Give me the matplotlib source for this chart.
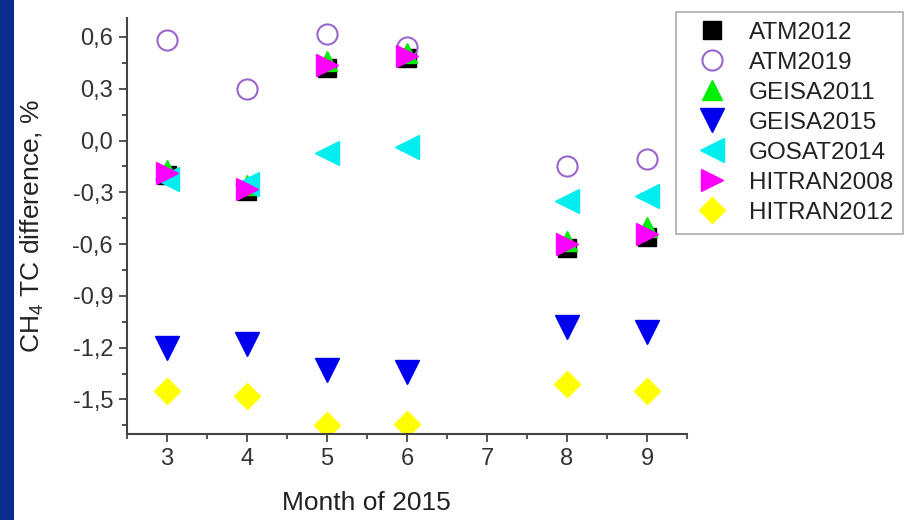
import matplotlib
matplotlib.use("Agg")
import matplotlib.pyplot as plt
from matplotlib.patches import Rectangle
from matplotlib.ticker import FuncFormatter, AutoMinorLocator

plt.rcParams['font.family'] = ['Liberation Sans', 'DejaVu Sans']
plt.rcParams['mathtext.fontset'] = 'custom'
plt.rcParams['mathtext.rm'] = 'Liberation Sans'
plt.rcParams['mathtext.default'] = 'regular'

months = [3, 4, 5, 6, 8, 9]
atm2012 = [-0.20, -0.29, 0.42, 0.48, -0.62, -0.56]
atm2019 = [0.58, 0.30, 0.62, 0.54, -0.145, -0.105]
geisa2011 = [-0.17, -0.26, 0.46, 0.51, -0.58, -0.50]
geisa2015 = [-1.20, -1.18, -1.33, -1.34, -1.08, -1.11]
gosat2014 = [-0.22, -0.25, -0.07, -0.035, -0.35, -0.32]
hitran2008 = [-0.19, -0.28, 0.44, 0.49, -0.60, -0.54]
hitran2012 = [-1.45, -1.48, -1.645, -1.64, -1.41, -1.45]

yticks = [-1.5, -1.2, -0.9, -0.6, -0.3, 0.0, 0.3, 0.6]
xticks = [3, 4, 5, 6, 7, 8, 9]

fig = plt.figure(figsize=(9.05, 5.2), dpi=100)
fig.patches.append(Rectangle((0, 0), 14/905, 1, transform=fig.transFigure,
                             facecolor='#0b2c8c', edgecolor='none', zorder=0))
ax = fig.add_axes([127/905, 1-434/520, 560/905, 416/520])

series = [
    ('ATM2012', atm2012, dict(marker='s', color='black', ms=13)),
    ('ATM2019', atm2019, dict(marker='o', mfc='none', mec='#9966cc', mew=1.5, ms=14.5)),
    ('GEISA2011', geisa2011, dict(marker='^', color='#00ee00', ms=14)),
    ('GEISA2015', geisa2015, dict(marker='v', color='#0000ee', ms=17)),
    ('GOSAT2014', gosat2014, dict(marker='<', color='#00eeee', ms=17)),
    ('HITRAN2008', hitran2008, dict(marker='>', color='#ff00ff', ms=16)),
    ('HITRAN2012', hitran2012, dict(marker='D', color='#ffff00', ms=13)),
]
for name, vals, kw in series:
    ax.plot(months, vals, linestyle='none', label=name, **kw)

ax.set_xlim(2.5, 9.5)
ax.set_ylim(-1.70, 0.71)
ax.set_xticks(xticks)
ax.set_yticks(yticks)
ax.xaxis.set_minor_locator(AutoMinorLocator(2))
ax.yaxis.set_minor_locator(AutoMinorLocator(2))
ax.yaxis.set_major_formatter(FuncFormatter(lambda v, p: f"{v:.1f}".replace('.', ',').replace('-0,0', '0,0')))
ax.spines['top'].set_visible(False)
ax.spines['right'].set_visible(False)
for s in ('left', 'bottom'):
    ax.spines[s].set_color('#444444')
    ax.spines[s].set_linewidth(1.5)
ax.tick_params(which='major', length=6, width=1.3, color='#444444', labelsize=17, labelcolor='#333333', pad=4)
ax.tick_params(which='minor', length=3.5, width=1.3, color='#444444')
ax.set_xlabel('Month of 2015', fontsize=19, color='#222222', va='center')
ax.set_ylabel('CH$_4$ TC difference, %', fontsize=19, color='#222222', va='center')
ax.xaxis.set_label_coords((366-127)/560, -(503-434)/416)
ax.yaxis.set_label_coords((32-127)/560, 0.5)

leg = ax.legend(loc='upper left', bbox_to_anchor=(676/905, 1-12/520), bbox_transform=fig.transFigure,
                fontsize=17.5, frameon=True, fancybox=False, edgecolor='#999999',
                borderaxespad=0, handletextpad=0.44, labelspacing=0.33, borderpad=0.4,
                handlelength=2.17, markerscale=1.0)
leg.get_frame().set_linewidth(1.2)
for t in leg.get_texts():
    t.set_color('#222222')

fig.savefig('out.png', dpi=100, facecolor='white')
